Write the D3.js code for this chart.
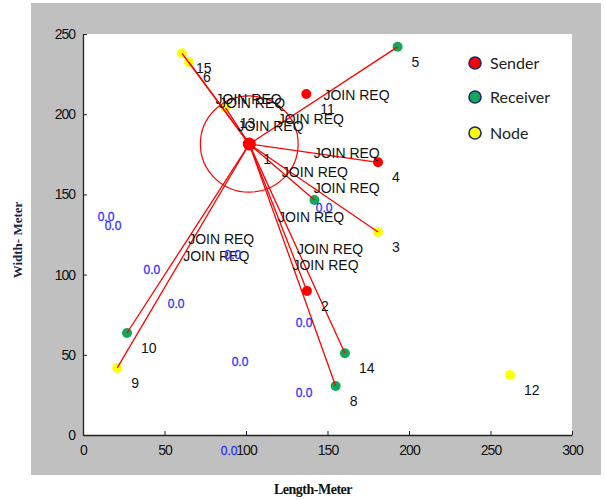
<!DOCTYPE html>
<html>
<head>
<meta charset="UTF-8">
<title>join req</title>
<style>
    body { margin: 0; background: #fff; }
    svg text { font-family: "Liberation Sans", Arial, sans-serif; }
</style>
<script src="https://cdnjs.cloudflare.com/ajax/libs/d3/7.8.5/d3.min.js"></script>
</head>
<body>
<svg id="chart" width="605" height="500"></svg>
<script>
// nodes
var nodeNames = ["1", "2", "3", "4", "5", "6", "7", "8", "9", "10", "11", "12", "13", "14", "15"];
var nodeX = [102, 137.4, 181, 181, 193, 65, 142, 155, 21, 27, 137, 262, 87.5, 160.7, 60.7];
var nodeY = [181.4, 89.8, 126.6, 170, 242, 232.5, 146.5, 30.5, 41.8, 63.6, 212.6, 37.4, 204, 51, 238];
var nodeRole = ["sender", "sender", "node", "sender", "receiver", "node", "receiver", "receiver",
    "node", "receiver", "sender", "node", "node", "receiver", "node"];
var hiddenLabels = ["7"];

// links from node 1
var linkTargets = ["2", "3", "4", "5", "6", "7", "8", "9", "10", "13", "14", "15"];
var joinTargets = ["2", "3", "4", "5", "6", "7", "8", "9", "10", "11", "13", "14", "15"];
var rangeRadius = 30;

// stray "0.0" texts
var zeroX = [14.1, 18.4, 42.3, 57.1, 92.0, 147.9, 96.3, 135.6, 135.6, 89.6];
var zeroY = [135.9, 130.3, 102.9, 81.7, 112.2, 141.5, 45.5, 69.8, 26.2, -10.0];

var xTicks = [0, 50, 100, 150, 200, 250, 300];
var yTicks = [0, 50, 100, 150, 200, 250];

var legendNames = ["Sender", "Receiver", "Node"];
var roleColor = {sender: "#ff0000", receiver: "#12a85a", node: "#ffff00"};
var legendRoles = ["sender", "receiver", "node"];

var svg = d3.select("#chart");

// grey figure background
svg.append("rect").attr("x", 31).attr("y", 3).attr("width", 570).attr("height", 472).attr("fill", "#c0c0c0");

var x = d3.scaleLinear().domain([0, 300]).range([83, 572]);
var y = d3.scaleLinear().domain([0, 250]).range([435, 34]);

svg.append("rect").attr("x", x(0)).attr("y", y(250))
    .attr("width", x(300) - x(0)).attr("height", y(0) - y(250)).attr("fill", "#fff");

var xAxis = svg.append("g").attr("transform", "translate(0," + y(0) + ")")
    .call(d3.axisBottom(x).tickValues(xTicks).tickSizeInner(-4).tickSizeOuter(0).tickPadding(10));
var yAxis = svg.append("g").attr("transform", "translate(" + x(0) + ",0)")
    .call(d3.axisLeft(y).tickValues(yTicks).tickSizeInner(-4).tickSizeOuter(0).tickPadding(8));
[xAxis, yAxis].forEach(function (a) {
    a.select(".domain").attr("stroke", "#222").attr("stroke-width", 1.3);
    a.selectAll(".tick line").attr("stroke", "#222");
    a.selectAll("text").attr("font-size", 14).attr("fill", "#111")
        .attr("letter-spacing", "-1px").style("font-family", "'Liberation Sans', Arial, sans-serif");
});

// axis titles
svg.append("text").attr("x", 313).attr("y", 494).attr("text-anchor", "middle")
    .attr("font-size", 14).attr("font-weight", "bold").attr("fill", "#111")
    .style("font-family", "'Liberation Serif', 'Times New Roman', serif")
    .attr("letter-spacing", "-0.5px").text("Length-Meter");
svg.append("text").attr("transform", "translate(22,240) rotate(-90)").attr("text-anchor", "middle")
    .attr("font-size", 13).attr("font-weight", "bold").attr("fill", "#1a2244")
    .style("font-family", "'Liberation Serif', 'Times New Roman', serif")
    .text("Width- Meter");

var nodes = nodeNames.map(function (n, i) {
    return {name: n, x: nodeX[i], y: nodeY[i], role: nodeRole[i]};
});
var byName = {};
nodes.forEach(function (d) { byName[d.name] = d; });
var src = byName["1"];

// nodes
svg.append("g").selectAll("circle")
    .data(nodes.filter(function (d) { return d.name !== "1"; }))
    .enter().append("circle")
    .attr("cx", function (d) { return x(d.x); })
    .attr("cy", function (d) { return y(d.y); })
    .attr("r", 5)
    .attr("fill", function (d) { return roleColor[d.role]; });

// range circle
svg.append("ellipse").attr("cx", x(src.x)).attr("cy", y(src.y))
    .attr("rx", x(rangeRadius) - x(0)).attr("ry", y(0) - y(rangeRadius))
    .attr("fill", "none").attr("stroke", "#ff0000").attr("stroke-width", 1.2);

// links
svg.append("g").selectAll("line")
    .data(linkTargets.map(function (n) { return byName[n]; }))
    .enter().append("line")
    .attr("x1", x(src.x)).attr("y1", y(src.y))
    .attr("x2", function (d) { return x(d.x); })
    .attr("y2", function (d) { return y(d.y); })
    .attr("stroke", "#ff0000").attr("stroke-width", 1.3);

svg.append("circle").attr("cx", x(src.x)).attr("cy", y(src.y)).attr("r", 6.5).attr("fill", "#ff0000");

// JOIN REQ at link midpoints
svg.append("g").selectAll("text")
    .data(joinTargets.map(function (n) { return byName[n]; }))
    .enter().append("text")
    .attr("x", function (d) { return (x(src.x) + x(d.x)) / 2; })
    .attr("y", function (d) { return (y(src.y) + y(d.y)) / 2 + 5; })
    .attr("font-size", 14).attr("fill", "#111")
    .text("JOIN REQ");

// node numbers
svg.append("g").selectAll("text")
    .data(nodes.filter(function (d) { return hiddenLabels.indexOf(d.name) < 0; }))
    .enter().append("text")
    .attr("x", function (d) { return x(d.x) + 14; })
    .attr("y", function (d) { return y(d.y) + 20; })
    .attr("font-size", 14).attr("fill", "#111")
    .text(function (d) { return d.name; });

// "0.0" texts
svg.append("g").selectAll("text")
    .data(zeroX.map(function (v, i) { return [v, zeroY[i]]; }))
    .enter().append("text")
    .attr("x", function (d) { return x(d[0]); })
    .attr("y", function (d) { return y(d[1]) + 4; })
    .attr("text-anchor", "middle")
    .attr("font-size", 12).attr("fill", "#3030ff")
    .attr("stroke", "#3030ff").attr("stroke-width", 0.3)
    .text("0.0");

// legend
var leg = svg.append("g").selectAll("g")
    .data(legendNames).enter().append("g")
    .attr("transform", function (d, i) { return "translate(475," + [63, 97, 133][i] + ")"; });
leg.append("circle").attr("r", 6)
    .attr("fill", function (d, i) { return roleColor[legendRoles[i]]; })
    .attr("stroke", "#1c2a6e").attr("stroke-width", 1.6);
leg.append("text").attr("x", 15).attr("y", 6)
    .attr("font-size", 16).attr("fill", "#222")
    .style("font-family", "Lato, 'Open Sans', sans-serif")
    .text(function (d) { return d; });
</script>
</body>
</html>
